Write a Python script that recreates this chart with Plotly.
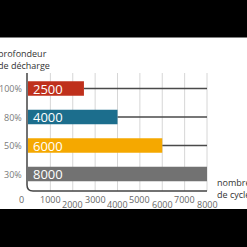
import plotly.graph_objects as go

categories = ["30%", "50%", "80%", "100%"]
cycles = [8000, 6000, 4000, 2500]
colors = ["#727272", "#F5A800", "#1C6E8D", "#BF301C"]
tick_values = [0, 1000, 2000, 3000, 4000, 5000, 6000, 7000, 8000]
tick_labels = ["0", "1000", "2000", "3000", "4000", "5000", "6000", "7000", "8000"]

W = 247
px_per_unit = 179 / 8000
xmin = -28 / px_per_unit
xmax = xmin + W / px_per_unit
py_per_cat = 28.5
ytop = 3 + 88.5 / py_per_cat
ymin = ytop - W / py_per_cat

def py(p):
    return 1 - p / W

def pxp(p):
    return p / W

fig = go.Figure()
fig.add_trace(go.Bar(
    y=categories, x=cycles, orientation="h",
    marker=dict(color=colors, line=dict(width=0)),
    width=0.51, hoverinfo="skip",
))

shapes = []
for v in tick_values[1:]:
    shapes.append(dict(type="line", xref="x", yref="paper", x0=v, x1=v,
                       y0=py(73), y1=py(191), line=dict(color="#d6d6d6", width=1), layer="below"))
for c, v in zip(categories, cycles):
    if v < 8000:
        shapes.append(dict(type="line", xref="x", yref="y", x0=v, x1=8000, y0=c, y1=c,
                           line=dict(color="#4a4a4a", width=1.5), layer="below"))
r = 6
path = (f"M {pxp(27)},{py(73)} L {pxp(27)},{py(191 - r)} "
        f"Q {pxp(27)},{py(191)} {pxp(27 + r)},{py(191)} L {pxp(207)},{py(191)}")
shapes.append(dict(type="path", xref="paper", yref="paper", path=path,
                   line=dict(color="#444444", width=1.5), layer="above"))
shapes.append(dict(type="rect", xref="paper", yref="paper", x0=0, x1=1, y0=py(0), y1=py(37.5),
                   fillcolor="black", line=dict(width=0), layer="above"))
shapes.append(dict(type="rect", xref="paper", yref="paper", x0=0, x1=1, y0=py(209), y1=py(247),
                   fillcolor="black", line=dict(width=0), layer="above"))

annotations = []
font_family = "Open Sans"
for c, v in zip(categories, cycles):
    annotations.append(dict(x=0, y=c, xref="x", yref="y", text=str(v), showarrow=False,
                            xanchor="left", yanchor="middle", xshift=3,
                            font=dict(family=font_family, size=13, color="white")))
    annotations.append(dict(x=pxp(24), y=c, xref="paper", yref="y", text=c, showarrow=False,
                            xanchor="right", yanchor="middle",
                            font=dict(family=font_family, size=9, color="#7a7a7a")))
for i, (v, lab) in enumerate(zip(tick_values, tick_labels)):
    yy = 199 if i % 2 == 1 or i == 0 else 204.5
    annotations.append(dict(x=v, y=py(yy), xref="x", yref="paper", text=lab, showarrow=False,
                            xanchor="center", yanchor="middle", xshift=-7 if i == 0 else 0,
                            font=dict(family=font_family, size=9, color="#666666")))
annotations.append(dict(x=pxp(-4.5), y=py(53.5), xref="paper", yref="paper", text="profondeur",
                        showarrow=False, xanchor="left", yanchor="middle",
                        font=dict(family=font_family, size=9, color="#333333")))
annotations.append(dict(x=pxp(-4.5), y=py(65.5), xref="paper", yref="paper", text="de décharge",
                        showarrow=False, xanchor="left", yanchor="middle",
                        font=dict(family=font_family, size=9, color="#333333")))
annotations.append(dict(x=pxp(214.5), y=py(182.5), xref="paper", yref="paper", text="nombre",
                        showarrow=False, xanchor="left", yanchor="middle",
                        font=dict(family=font_family, size=9, color="#333333")))
annotations.append(dict(x=pxp(214.5), y=py(194.5), xref="paper", yref="paper", text="de cycles",
                        showarrow=False, xanchor="left", yanchor="middle",
                        font=dict(family=font_family, size=9, color="#333333")))

fig.update_layout(
    width=W, height=W, margin=dict(l=0, r=0, t=0, b=0),
    paper_bgcolor="white", plot_bgcolor="white", showlegend=False,
    xaxis=dict(range=[xmin, xmax], visible=False, fixedrange=True),
    yaxis=dict(type="category", categoryorder="array", categoryarray=categories,
               range=[ymin, ytop], visible=False, fixedrange=True),
    shapes=shapes, annotations=annotations,
)
fig.write_html("out.html")
